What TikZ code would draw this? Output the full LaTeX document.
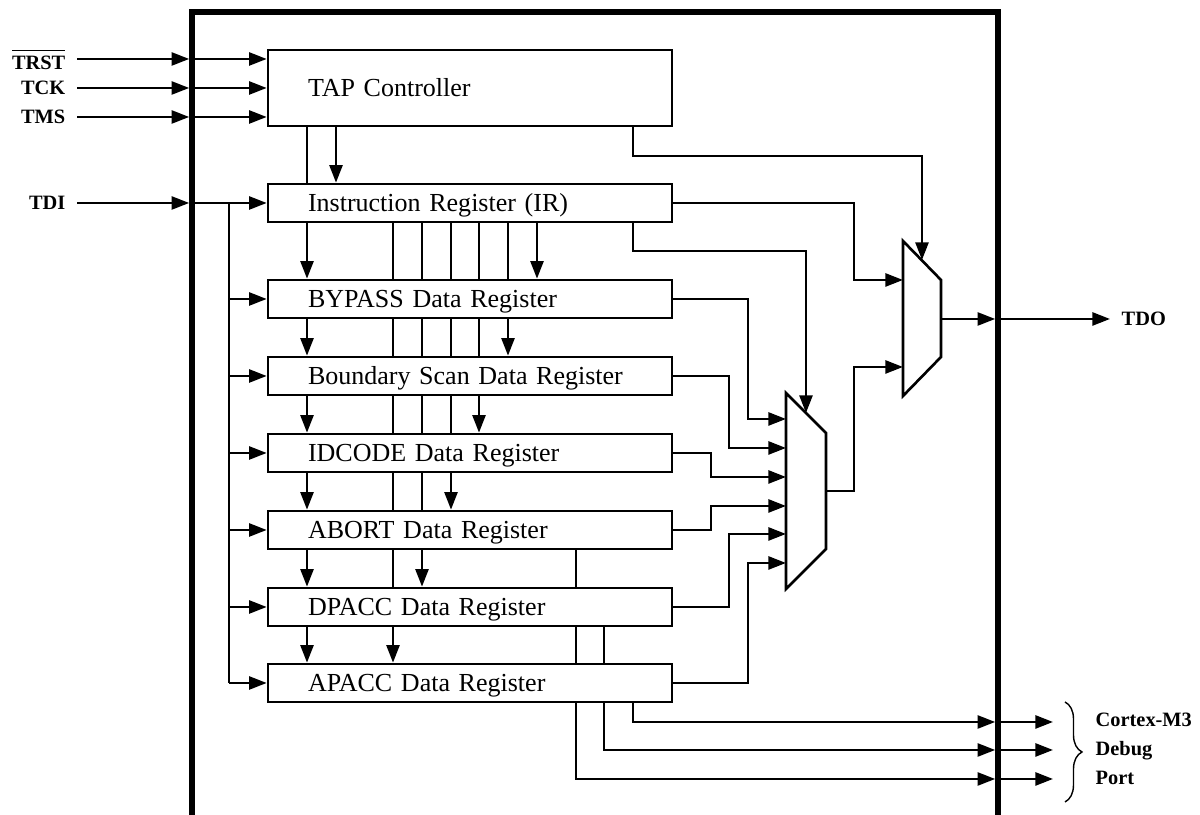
\documentclass[tikz,border=0pt]{standalone}
\usepackage{fontspec}
\setmainfont{Liberation Serif}
\usetikzlibrary{arrows.meta,calc,decorations.pathreplacing}

\tikzset{
  reg/.style={draw, line width=0.75pt, text width=3.24cm, inner xsep=0.4cm, inner ysep=0pt, minimum height=0.38cm, text height=4.9pt, text depth=0pt, align=left, font=\fontsize{7.4}{9}\selectfont},
  pin/.style={inner xsep=0.11cm, inner ysep=0pt, font=\fontsize{5.8}{7}\selectfont\bfseries},
  wire/.style={line width=0.7pt},
  sig/.style={wire, -{Stealth[length=5pt,width=3.7pt,inset=0pt]}},
  toedge/.style={sig, shorten >=0.8pt},
  chip/.style={line width=1.7pt},
  mux/.style={line width=0.75pt, line join=miter}
}

\begin{document}
\begin{tikzpicture}
  \useasboundingbox (0,0) rectangle (12,8.15);
  % chip outline (open at the bottom)
  \draw[chip] (1.92,-0.1) |- (9.98,8.03) -- (9.98,-0.1);
  \coordinate (chipL) at (1.92,8.03);
  \coordinate (chipR) at (9.98,8.03);
  % TAP controller and registers
  \node[reg, minimum height=0.76cm] (tap) at (4.70,7.27) {TAP Controller};
  \node[reg] (ir) at (4.70,6.12) {Instruction Register (IR)};
  \node[reg] (bypass) at (4.70,5.16) {BYPASS Data Register};
  \node[reg] (bsdr) at (4.70,4.39) {Boundary Scan Data Register};
  \node[reg] (idcode) at (4.70,3.62) {IDCODE Data Register};
  \node[reg] (abort) at (4.70,2.85) {ABORT Data Register};
  \node[reg] (dpacc) at (4.70,2.08) {DPACC Data Register};
  \node[reg] (apacc) at (4.70,1.32) {APACC Data Register};
  % pins
  \node[pin, anchor=east] (trst) at (0.77,7.56) {$\overline{\mbox{TRST}}$};
  \node[pin, anchor=east] (tck) at (0.77,7.27) {TCK};
  \node[pin, anchor=east] (tms) at (0.77,6.98) {TMS};
  \node[pin, anchor=east] (tdi) at (0.77,6.12) {TDI};
  \node[pin, anchor=west] (tdo) at (11.10,4.96) {TDO};
  \node[pin, anchor=west, align=left, font=\fontsize{5.8}{8.2}\selectfont\bfseries] (dbgport) at (10.84,0.66) {Cortex-M3\\Debug\\Port};
  % wire columns
  \coordinate (tdibus) at (2.29,6.12);
  \coordinate (w1) at (3.07,0);
  \coordinate (w2) at (3.36,0);
  \coordinate (w3) at (3.93,0);
  \coordinate (w4) at (4.22,0);
  \coordinate (w5) at (4.51,0);
  \coordinate (w6) at (4.79,0);
  \coordinate (w7) at (5.08,0);
  \coordinate (w8) at (5.37,0);
  \coordinate (w9) at (5.76,0);
  \coordinate (w10) at (6.04,0);
  \coordinate (w11) at (6.33,0);
  \coordinate (v1) at (7.11,0);
  \coordinate (v2) at (7.29,0);
  \coordinate (v3) at (7.48,0);
  \coordinate (v5) at (8.54,0);
  \coordinate (tapbend) at (0,6.59);
  \coordinate (irbend) at (0,5.64);
  % multiplexers
  \draw[mux] (7.86,4.22) -- (8.26,3.82) -- (8.26,2.66) -- (7.86,2.26) -- cycle;
  \coordinate (m1sel) at (8.06,4.02);
  \coordinate (m1out) at (8.26,3.24);
  \coordinate (m1a) at (7.86,3.96);
  \coordinate (m1b) at (7.86,3.67);
  \coordinate (m1c) at (7.86,3.38);
  \coordinate (m1d) at (7.86,3.09);
  \coordinate (m1e) at (7.86,2.81);
  \coordinate (m1f) at (7.86,2.52);
  \draw[mux] (9.03,5.74) -- (9.41,5.35) -- (9.41,4.58) -- (9.03,4.19) -- cycle;
  \coordinate (m2sel) at (9.22,5.55);
  \coordinate (m2out) at (9.41,4.96);
  \coordinate (m2a) at (9.03,5.35);
  \coordinate (m2b) at (9.03,4.48);
  % pins into the TAP controller
  \foreach \p in {trst,tck,tms} {
    \draw[toedge] (\p.east) -- (\p.east -| chipL);
    \draw[sig] (\p.east -| chipL) -- (tap.west |- \p.east);
  }
  % TDI into every register
  \draw[toedge] (tdi.east) -- (tdi.east -| chipL);
  \draw[sig] (tdi.east -| chipL) -- (ir.west);
  \draw[wire] (tdibus) -- (tdibus |- apacc.west);
  \foreach \r in {bypass,bsdr,idcode,abort,dpacc,apacc}
    \draw[sig] (tdibus |- \r.west) -- (\r.west);
  % control lines down the stack
  \draw[wire] (tap.south -| w1) -- (ir.north -| w1);
  \draw[sig] (tap.south -| w2) -- (ir.north -| w2);
  \draw[sig] (ir.south -| w1) -- (bypass.north -| w1);
  \foreach \w in {w3,w4,w5,w6,w7} \draw[wire] (ir.south -| \w) -- (bypass.north -| \w);
  \draw[sig] (ir.south -| w8) -- (bypass.north -| w8);
  \draw[sig] (bypass.south -| w1) -- (bsdr.north -| w1);
  \foreach \w in {w3,w4,w5,w6} \draw[wire] (bypass.south -| \w) -- (bsdr.north -| \w);
  \draw[sig] (bypass.south -| w7) -- (bsdr.north -| w7);
  \draw[sig] (bsdr.south -| w1) -- (idcode.north -| w1);
  \foreach \w in {w3,w4,w5} \draw[wire] (bsdr.south -| \w) -- (idcode.north -| \w);
  \draw[sig] (bsdr.south -| w6) -- (idcode.north -| w6);
  \draw[sig] (idcode.south -| w1) -- (abort.north -| w1);
  \foreach \w in {w3,w4} \draw[wire] (idcode.south -| \w) -- (abort.north -| \w);
  \draw[sig] (idcode.south -| w5) -- (abort.north -| w5);
  \draw[sig] (abort.south -| w1) -- (dpacc.north -| w1);
  \draw[wire] (abort.south -| w3) -- (dpacc.north -| w3);
  \draw[sig] (abort.south -| w4) -- (dpacc.north -| w4);
  \draw[wire] (abort.south -| w9) -- (dpacc.north -| w9);
  \draw[sig] (dpacc.south -| w1) -- (apacc.north -| w1);
  \draw[sig] (dpacc.south -| w3) -- (apacc.north -| w3);
  \draw[wire] (dpacc.south -| w9) -- (apacc.north -| w9);
  \draw[wire] (dpacc.south -| w10) -- (apacc.north -| w10);
  % data registers into the first mux
  \draw[sig] (bypass.east) -| (v3 |- m1a) -- (m1a);
  \draw[sig] (bsdr.east) -| (v2 |- m1b) -- (m1b);
  \draw[sig] (idcode.east) -| (v1 |- m1c) -- (m1c);
  \draw[sig] (abort.east) -| (v1 |- m1d) -- (m1d);
  \draw[sig] (dpacc.east) -| (v2 |- m1e) -- (m1e);
  \draw[sig] (apacc.east) -| (v3 |- m1f) -- (m1f);
  % selects and second mux
  \draw[sig] (ir.south -| w11) |- (m1sel |- irbend) -- (m1sel);
  \draw[sig] (tap.south -| w11) |- (m2sel |- tapbend) -- (m2sel);
  \draw[sig] (ir.east) -| (v5 |- m2a) -- (m2a);
  \draw[sig] (m1out) -| (v5 |- m2b) -- (m2b);
  \draw[toedge] (m2out) -- (m2out -| chipR);
  \draw[sig] (m2out -| chipR) -- (tdo.west);
  % debug port outputs
  \coordinate (dp1) at (10.53,0.93);
  \coordinate (dp2) at (10.53,0.65);
  \coordinate (dp3) at (10.53,0.36);
  \draw[toedge] (apacc.south -| w11) |- (dp1 -| chipR);
  \draw[toedge] (apacc.south -| w10) |- (dp2 -| chipR);
  \draw[toedge] (apacc.south -| w9) |- (dp3 -| chipR);
  \draw[sig] (dp1 -| chipR) -- (dp1);
  \draw[sig] (dp2 -| chipR) -- (dp2);
  \draw[sig] (dp3 -| chipR) -- (dp3);
  \draw[decorate, decoration={brace, amplitude=0.17cm}, line width=0.4pt] (10.65,1.13) -- (10.65,0.13);
\end{tikzpicture}
\end{document}
